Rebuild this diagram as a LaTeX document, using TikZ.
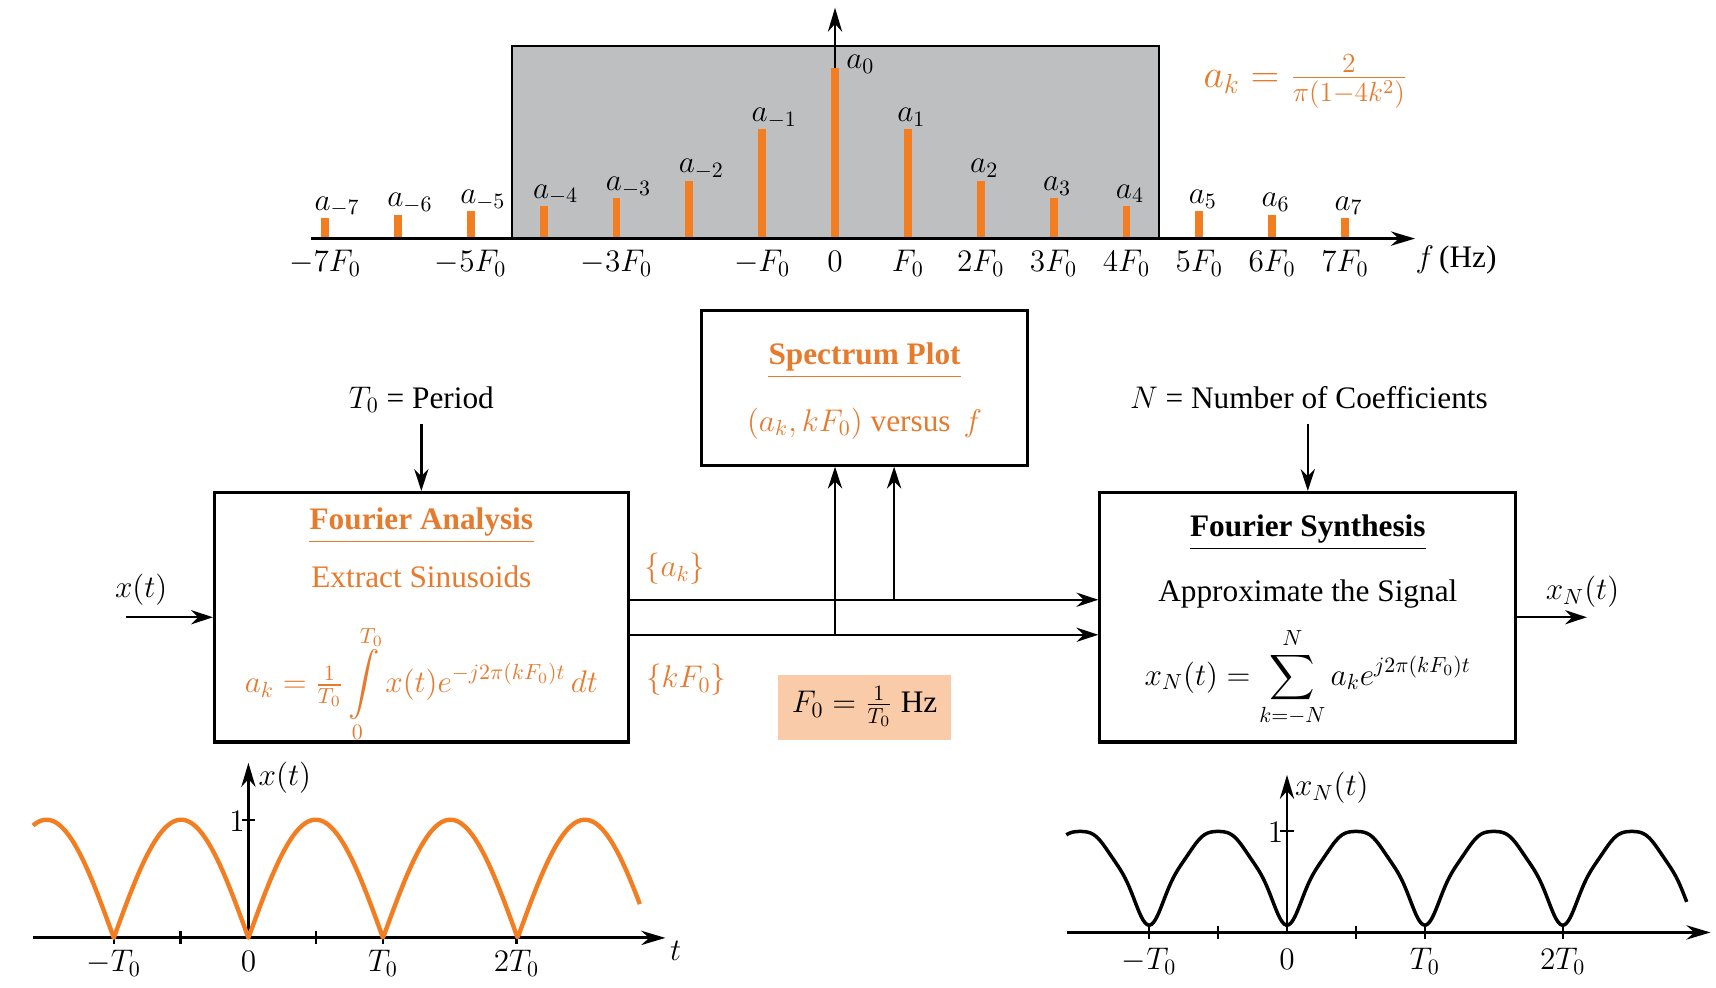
\RequirePackage{fix-cm}
\documentclass[tikz,border=0pt]{standalone}
\usepackage{amsmath}
\usepackage{fontspec}
\setmainfont{Liberation Serif}
\usetikzlibrary{arrows.meta}
\definecolor{ora}{RGB}{243,125,33}
\definecolor{tora}{RGB}{230,122,45}
\definecolor{gbox}{RGB}{189,191,193}
\definecolor{peach}{RGB}{250,203,168}
\begin{document}
\begin{tikzpicture}[x=0.5pt,y=-0.5pt,
  every node/.style={font=\fontsize{14.3}{17}\selectfont, inner sep=0pt},
  ttl/.style={font=\fontsize{14.3}{17}\selectfont\bfseries, anchor=base},
  blk/.style={draw, line width=1.4pt, inner sep=0pt},
  arr/.style={line width=1.1pt, -{Stealth[length=10pt,width=6.5pt]}},
  axarr/.style={line width=1.3pt, -{Stealth[length=11pt,width=6.5pt]}},
  stem/.style={ora, line width=3.6pt},
  tick/.style={line width=1pt},
  lbl/.style={anchor=base west},
  uline/.style={line width=0.6pt}
]
\useasboundingbox (0,0) rectangle (1568,902);

% ---------- spectrum ----------
\fill[gbox] (468,42) rectangle (1059,218);
\draw[line width=1.1pt] (468,218) -- (468,42) -- (1059,42) -- (1059,218);
\draw[axarr] (763,218) -- (763,7);
\foreach \k/\t in {-7/199,-6/196,-5/193,-4/188,-3/181,-2/165,-1/118,0/62,1/118,2/165,3/181,4/188,5/193,6/196,7/199}{
  \draw[stem] ({763+66.57*\k},218) -- ({763+66.57*\k},\t);
}
\foreach \k/\t in {-7/199,-6/196,-5/193,-4/188,-3/181,-2/165,-1/118,1/118,2/165,3/181,4/188,5/193,6/196,7/199}{
  \node[lbl] (la\k) at ({763+66.57*\k-10},{\t-7}) {$a_{\k}$};
}
\node[lbl] (la0) at (773,63) {$a_0$};
\draw[axarr] (284,218) -- (1293,218);
\foreach \k/\s in {-7/{-7F_0},-5/{-5F_0},-3/{-3F_0},-1/{-F_0},0/{0},1/{F_0},2/{2F_0},3/{3F_0},4/{4F_0},5/{5F_0},6/{6F_0},7/{7F_0}}{
  \node[anchor=base] (tk\k) at ({763+66.57*\k},248) {$\s$};
}
\node[anchor=base west] (fhz) at (1293,244) {$f$\,(Hz)};
\node[tora, anchor=base, font=\fontsize{18}{21}\selectfont] (akf) at (1193,80) {$a_k = \frac{2}{\pi(1-4k^2)}$};

% ---------- blocks ----------
\node[blk, minimum width=189pt, minimum height=114pt] (fa) at (385,564) {};
\node[blk, minimum width=149pt, minimum height=70.5pt] (sp) at (790,354.5) {};
\node[blk, minimum width=190pt, minimum height=114pt] (fs) at (1195,564) {};
\node[fill=peach, minimum width=79pt, minimum height=29.5pt] (f0b) at (790,646.5) {};

\node[ttl, tora] (fat) at (385,484) {Fourier Analysis};
\draw[uline, tora] ([yshift=-5.3pt]fat.base west) -- ([yshift=-5.3pt]fat.base east);
\node[tora, anchor=base] (fae) at (385,537) {Extract Sinusoids};
\node[tora, anchor=base] (faf) at (385,633) {$a_k = \tfrac{1}{T_0}\displaystyle\int\limits_0^{T_0} x(t)e^{-j2\pi(kF_0)t}\,dt$};

\node[ttl, tora] (spt) at (790,333.5) {Spectrum Plot};
\draw[uline, tora] ([yshift=-5.3pt]spt.base west) -- ([yshift=-5.3pt]spt.base east);
\node[tora, anchor=base] (spv) at (790,394) {$(a_k,kF_0)$ versus \,$f$};

\node[ttl] (fst) at (1195,490) {Fourier Synthesis};
\draw[uline] ([yshift=-5.5pt]fst.base west) -- ([yshift=-5.5pt]fst.base east);
\node[anchor=base] (fsa) at (1195,550) {Approximate the Signal};
\node[anchor=base] (fsf) at (1195,626) {$x_N(t) = \displaystyle\sum_{k=-N}^{N} a_k e^{j2\pi(kF_0)t}$};

\node[anchor=base] (f0t) at (790,651) {$F_0 = \frac{1}{T_0}$ Hz};

\node[anchor=base] (t0l) at (385,373) {$T_0$ = Period};
\node[anchor=base] (nl) at (1196,373) {$N$ = Number of Coefficients};
\node[anchor=base] (xinl) at (129,546) {$x(t)$};
\node[anchor=base] (xoutl) at (1446,548) {$x_N(t)$};
\node[tora] (akl) at (617,520) {$\{a_k\}$};
\node[tora] (kfl) at (627,621) {$\{kF_0\}$};

% ---------- connectors ----------
\coordinate (yA) at (0,548);
\coordinate (yK) at (0,580);
\coordinate (jK) at (763,580);
\coordinate (jA) at (817,548);
\coordinate (xin) at (115,564);
\coordinate (xout) at (1450,564);
\coordinate (t0a) at (385,387);
\coordinate (na) at (1195,387);
\draw[arr] (fa.east |- yA) -- (fs.west |- yA);
\draw[arr] (fa.east |- yK) -- (fs.west |- yK);
\draw[arr] (jK) -- (jK |- sp.south);
\draw[arr] (jA) -- (jA |- sp.south);
\draw[arr] (xin) -- (fa.west);
\draw[arr] (fs.east) -- (xout);
\draw[arr] (t0a) -- (fa.north);
\draw[arr] (na) -- (fs.north);

% ---------- x(t) plot ----------
\draw[axarr] (30,857) -- (608,857);
\draw[axarr] (227,857) -- (227,697);
\foreach \x in {104,165,289,350,472} \draw[tick] (\x,851) -- (\x,863);
\draw[tick] (221,749) -- (233,749);
\node[anchor=east] (one1) at (224,751) {$1$};
\node[anchor=base west] (xtl) at (236,718) {$x(t)$};
\node[anchor=base west] (tl) at (612,878) {$t$};
\node[anchor=base] (lm1) at (104,888) {$-T_0$};
\node[anchor=base] (l0) at (227,888) {$0$};
\node[anchor=base] (l1) at (350,888) {$T_0$};
\node[anchor=base] (l2) at (472,888) {$2T_0$};
\draw[ora, line width=2pt, line join=round] plot[domain=-1.6:2.91, samples=452] ({227+123*\x},{857-108*abs(sin(180*\x))});

% ---------- x_N(t) plot ----------
\draw[axarr] (975,852) -- (1563,852);
\draw[axarr] (1176,852) -- (1176,708);
\foreach \x in {1050,1113,1239,1302,1428} \draw[tick] (\x,846) -- (\x,858);
\draw[tick] (1170,759) -- (1182,759);
\node[anchor=east] (one2) at (1173,761) {$1$};
\node[anchor=base west] (xntl) at (1183,727) {$x_N(t)$};
\node[anchor=base] (rm1) at (1050,886) {$-T_0$};
\node[anchor=base] (r0) at (1176,886) {$0$};
\node[anchor=base] (r1) at (1302,886) {$T_0$};
\node[anchor=base] (r2) at (1428,886) {$2T_0$};
\draw[line width=1.6pt, line join=round] plot[domain=-1.6:2.9, samples=300, smooth] ({1176+126*\x},{852-93*(0.63662-1.27324*(cos(360*\x)/3+cos(720*\x)/15+cos(1080*\x)/35+cos(1440*\x)/63))});
\end{tikzpicture}
\end{document}
